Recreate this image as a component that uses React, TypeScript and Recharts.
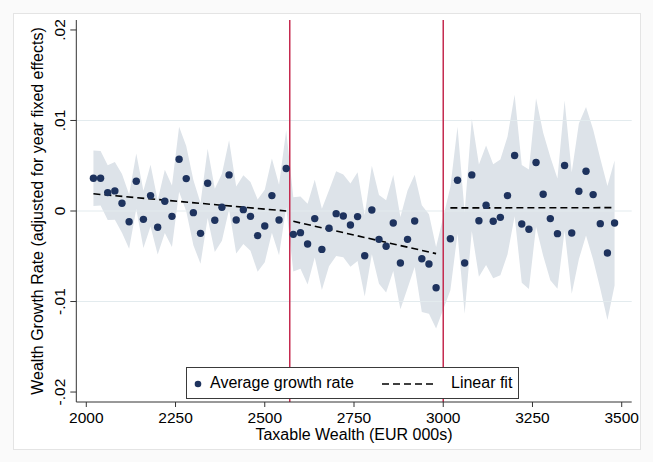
import {
  Area,
  ComposedChart,
  Label,
  Line,
  ReferenceLine,
  Scatter,
  XAxis,
  YAxis,
} from "recharts";

// Binned wealth growth around the two tax thresholds, with 95% band and
// piecewise linear fits. Stata-like look: rotated y labels, inset legend.

const bins = [
  2020, 2040, 2060, 2080, 2100, 2120, 2140, 2160, 2180, 2200, 2220, 2240, 2260, 2280,
  2300, 2320, 2340, 2360, 2380, 2400, 2420, 2440, 2460, 2480, 2500, 2520, 2540, 2560,
  2580, 2600, 2620, 2640, 2660, 2680, 2700, 2720, 2740, 2760, 2780, 2800, 2820, 2840,
  2860, 2880, 2900, 2920, 2940, 2960, 2980,
  3020, 3040, 3060, 3080, 3100, 3120, 3140, 3160, 3180, 3200, 3220, 3240, 3260, 3280,
  3300, 3320, 3340, 3360, 3380, 3400, 3420, 3440, 3460, 3480,
];

const growth = [
  0.00362, 0.00362, 0.00203, 0.00222, 0.00085, -0.00118, 0.00329, -0.00092, 0.0017,
  -0.0018, 0.00107, -0.00059, 0.00572, 0.00358, -0.00018, -0.00247, 0.00306, -0.00103,
  0.00041, 0.00399, -0.00099, 0.00015, -0.00059, -0.00272, -0.00166, 0.0017, -0.00099,
  0.00469,
  -0.00258, -0.00239, -0.00365, -0.00084, -0.00424, -0.00191, -0.00029, -0.00055,
  -0.00155, -0.00062, -0.00494, 0.00011, -0.00313, -0.0039, -0.00132, -0.00575,
  -0.00313, -0.0011, -0.00527, -0.00586, -0.00848,
  -0.00306, 0.0034, -0.00575, 0.00399, -0.00107, 0.00063, -0.00114, -0.0007, 0.0017,
  0.00613, -0.00143, -0.00202, 0.00535, 0.00185, -0.00084, -0.0025, 0.00502, -0.00243,
  0.00218, 0.00439, 0.00181, -0.0014, -0.00464, -0.00132,
];

// half-width of the confidence band at each bin
const ciHalf = [
  0.00306, 0.00302, 0.00302, 0.0032, 0.00325, 0.003, 0.00306, 0.00317, 0.0034, 0.003,
  0.0035, 0.0034, 0.00358, 0.0036, 0.0036, 0.00336, 0.00383, 0.0035, 0.0037, 0.00383,
  0.0037, 0.0038, 0.0038, 0.004, 0.004, 0.0041, 0.0039, 0.00424,
  0.0041, 0.004, 0.00446, 0.0043, 0.0045, 0.0042, 0.00468, 0.00457, 0.0046, 0.0049,
  0.0045, 0.0049, 0.0049, 0.0051, 0.0053, 0.0051, 0.0054, 0.0051, 0.0059, 0.0055, 0.0045,
  0.0057, 0.0059, 0.0056, 0.0062, 0.0062, 0.0066, 0.0063, 0.0064, 0.0065, 0.0067,
  0.0065, 0.0066, 0.0071, 0.0068, 0.0068, 0.0061, 0.0072, 0.0067, 0.0075, 0.0071,
  0.0072, 0.0072, 0.0074, 0.0069,
];

const fitX = [
  [2020, 2560],
  [2580, 2980],
  [3020, 3480],
];
const fitY = [
  [0.0019, 0.0],
  [-0.00114, -0.00471],
  [0.00034, 0.00037],
];

const cutoffs = [2570, 3000];
const xTicks = [2000, 2250, 2500, 2750, 3000, 3250, 3500];
const yTicks = [-0.02, -0.01, 0, 0.01, 0.02];
const gridValues = [-0.01, 0, 0.01];

const data = bins.map((x, i) => {
  const row: Record<string, unknown> = {
    x,
    growth: growth[i],
    band: [growth[i] - ciHalf[i], growth[i] + ciHalf[i]],
  };
  fitX.forEach((seg, s) => {
    const k = seg.indexOf(x);
    if (k >= 0) row[`fit${s}`] = fitY[s][k];
  });
  return row;
});

const FONT = "'Liberation Sans', Arial, sans-serif";
const NAVY = "#1e335e";
const BAND = "#dde3e9";
const CRIMSON = "#c52a4f";

function fmtY(v: number) {
  if (v === 0) return "0";
  return v.toFixed(2).replace("0.", ".");
}

function YTick(props: any) {
  const { x, y, payload } = props;
  return (
    <text
      x={x}
      y={y}
      transform={`rotate(-90, ${x}, ${y})`}
      textAnchor="middle"
      fontSize={15.5}
      fontFamily={FONT}
      fill="#000"
    >
      {fmtY(payload.value)}
    </text>
  );
}

function Dot(props: any) {
  if (props.cx == null || props.cy == null) return null;
  return <circle cx={props.cx} cy={props.cy} r={3.7} fill={NAVY} />;
}

export default function App() {
  return (
    <div
      style={{
        position: "absolute",
        left: 0,
        top: 0,
        width: 653,
        height: 462,
        background: "#fafafa",
        fontFamily: FONT,
      }}
    >
      <div
        style={{
          position: "absolute",
          left: 13,
          top: 13,
          width: 626,
          height: 435,
          background: "#fff",
          border: "1px solid #e4e4e4",
        }}
      />
      <div style={{ position: "absolute", left: 0, top: 0 }}>
        <ComposedChart
          width={653}
          height={462}
          data={data}
          margin={{ top: 20, right: 21.3, bottom: 30, left: 16.3 }}
        >
          <XAxis
            dataKey="x"
            type="number"
            domain={[1972, 3528]}
            ticks={xTicks}
            allowDataOverflow
            height={30}
            tickSize={5}
            tickMargin={5}
            stroke="#333"
            tick={{ fill: "#000", fontSize: 15.5, fontFamily: FONT }}
          >
            <Label
              content={({ viewBox }: any) => {
                const cx = viewBox.x + viewBox.width / 2;
                return (
                  <text
                    x={cx}
                    y={440}
                    textAnchor="middle"
                    fontSize={16}
                    fontFamily={FONT}
                    fill="#000"
                  >
                    Taxable Wealth (EUR 000s)
                  </text>
                );
              }}
            />
          </XAxis>
          <YAxis
            type="number"
            domain={[-0.0211, 0.0211]}
            ticks={yTicks}
            allowDataOverflow
            width={60}
            tickSize={6}
            tickMargin={5}
            stroke="#333"
            tick={<YTick />}
          >
            <Label
              content={({ viewBox }: any) => {
                const cy = viewBox.y + viewBox.height / 2;
                return (
                  <text
                    x={43}
                    y={cy}
                    transform={`rotate(-90, 43, ${cy})`}
                    textAnchor="middle"
                    fontSize={16}
                    fontFamily={FONT}
                    fill="#000"
                  >
                    Wealth Growth Rate (adjusted for year fixed effects)
                  </text>
                );
              }}
            />
          </YAxis>
          <Area
            dataKey="band"
            type="linear"
            stroke="none"
            fill={BAND}
            fillOpacity={1}
            dot={false}
            activeDot={false}
            isAnimationActive={false}
          />
          {gridValues.map((v) => (
            <ReferenceLine key={v} y={v} stroke="#e3ebee" strokeWidth={1} />
          ))}
          {fitX.map((_, s) => (
            <Line
              key={s}
              dataKey={`fit${s}`}
              type="linear"
              stroke="#000"
              strokeWidth={1.6}
              strokeDasharray="7 4"
              dot={false}
              activeDot={false}
              connectNulls
              isAnimationActive={false}
            />
          ))}
          <Scatter dataKey="growth" fill={NAVY} shape={<Dot />} isAnimationActive={false} />
          {cutoffs.map((c) => (
            <ReferenceLine key={c} x={c} stroke={CRIMSON} strokeWidth={1.5} />
          ))}
        </ComposedChart>
      </div>
      <div
        style={{
          position: "absolute",
          left: 186,
          top: 367,
          width: 333,
          height: 32,
          background: "#fff",
          border: "1px solid #3a3a3a",
          boxSizing: "border-box",
          fontSize: 16,
          color: "#000",
        }}
      >
        <svg width={333} height={32} style={{ position: "absolute", left: 0, top: 0 }}>
          <circle cx={11} cy={16} r={3.3} fill={NAVY} />
          <line
            x1={195}
            y1={16}
            x2={246}
            y2={16}
            stroke="#000"
            strokeWidth={1.5}
            strokeDasharray="7 4"
          />
        </svg>
        <span style={{ position: "absolute", left: 23, top: 6, lineHeight: "18px" }}>
          Average growth rate
        </span>
        <span style={{ position: "absolute", left: 264, top: 6, lineHeight: "18px" }}>
          Linear fit
        </span>
      </div>
    </div>
  );
}
